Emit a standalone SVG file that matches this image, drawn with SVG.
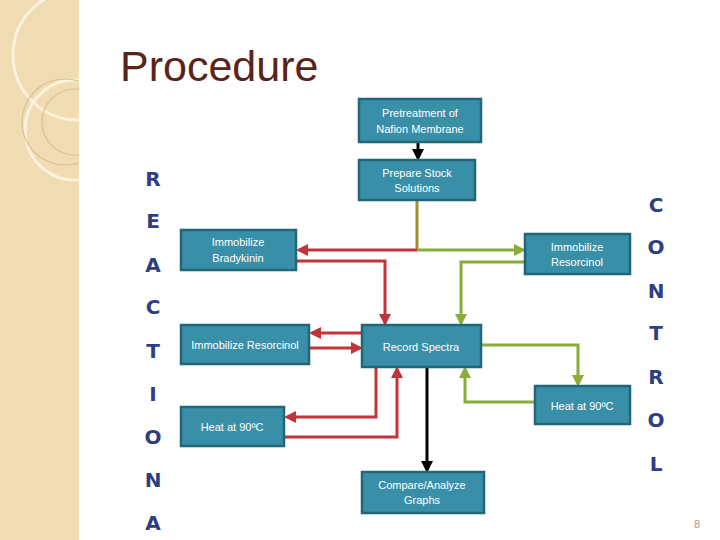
<svg xmlns="http://www.w3.org/2000/svg" width="720" height="540" viewBox="0 0 720 540">
<defs>
<style>
.n rect{fill:#3a8fa8;stroke:#22667a;stroke-width:2.5}
.n text{fill:#fff;font-family:"Liberation Sans",Arial,sans-serif;font-size:11px;text-anchor:middle}
.lt{font-family:"DejaVu Sans",sans-serif;font-weight:bold;font-size:20px;fill:#2d3f80;text-anchor:middle}
.r{stroke:#c0343a;stroke-width:3;fill:none;marker-end:url(#ar)}
.g{stroke:#8aac3a;stroke-width:3;fill:none;marker-end:url(#ag)}
.k{stroke:#000;stroke-width:3;fill:none;marker-end:url(#ak)}
</style>
<marker id="ar" markerWidth="4" markerHeight="4" refX="3" refY="2" orient="auto"><path d="M0,0L4,2L0,4z" fill="#c0343a"/></marker>
<marker id="ag" markerWidth="4" markerHeight="4" refX="3" refY="2" orient="auto"><path d="M0,0L4,2L0,4z" fill="#8aac3a"/></marker>
<marker id="ak" markerWidth="4" markerHeight="4" refX="3" refY="2" orient="auto"><path d="M0,0L4,2L0,4z" fill="#000"/></marker>
<clipPath id="cp"><rect width="79" height="540"/></clipPath>
</defs>
<rect width="720" height="540" fill="#fff"/>
<rect width="79" height="540" fill="#efdcb3"/>
<g clip-path="url(#cp)">
<g fill="none" stroke="#fbf1dc" stroke-width="3"><circle cx="78" cy="55" r="65"/><circle cx="75" cy="130" r="50"/></g>
<g fill="none" stroke="#d9c190" stroke-width="1.2"><circle cx="65" cy="122" r="43"/><circle cx="75" cy="122" r="33"/></g>
</g>
<text x="120" y="81" font-family="Liberation Sans,Arial,sans-serif" font-size="43" fill="#5a2418">Procedure</text>
<g id="reaction">
<text class="lt" x="153" y="186">R</text><text class="lt" x="153" y="228">E</text><text class="lt" x="153" y="272">A</text><text class="lt" x="153" y="314">C</text><text class="lt" x="153" y="358">T</text><text class="lt" x="153" y="401">I</text><text class="lt" x="153" y="444">O</text><text class="lt" x="153" y="487">N</text><text class="lt" x="153" y="530">A</text>
</g>
<g id="control">
<text class="lt" x="656" y="212">C</text><text class="lt" x="656" y="254">O</text><text class="lt" x="656" y="298">N</text><text class="lt" x="656" y="340">T</text><text class="lt" x="656" y="384">R</text><text class="lt" x="656" y="427">O</text><text class="lt" x="656" y="471">L</text>
</g>
<g id="connectors">
<path class="k" d="M418,142V158"/>
<path d="M417,200V250" stroke="#a09030" stroke-width="3"/>
<path class="r" d="M417,250H299"/>
<path class="g" d="M417,250H523"/>
<path class="r" d="M296,261H385V323"/>
<path class="g" d="M525,262H461V323"/>
<path class="r" d="M362,333H312"/>
<path class="r" d="M309,348H360"/>
<path class="g" d="M481,345H578V384"/>
<path class="g" d="M535,402H465V369"/>
<path class="r" d="M376,367V417H287"/>
<path class="r" d="M284,437H397V369"/>
<path class="k" d="M427,367V470"/>
</g>
<g id="pretreat" class="n"><rect x="359" y="99" width="122" height="43"/><text x="420" y="117">Pretreatment of</text><text x="420" y="133">Nafion Membrane</text></g>
<g id="stock" class="n"><rect x="359" y="160" width="116" height="40"/><text x="417" y="177">Prepare Stock</text><text x="417" y="192">Solutions</text></g>
<g id="brady" class="n"><rect x="181" y="230" width="115" height="40"/><text x="238" y="246">Immobilize</text><text x="238" y="262">Bradykinin</text></g>
<g id="resL" class="n"><rect x="181" y="325" width="128" height="39"/><text x="245" y="349">Immobilize Resorcinol</text></g>
<g id="spectra" class="n"><rect x="362" y="325" width="119" height="42"/><text x="421" y="351">Record Spectra</text></g>
<g id="resR" class="n"><rect x="525" y="234" width="105" height="40"/><text x="577" y="251">Immobilize</text><text x="577" y="266">Resorcinol</text></g>
<g id="heatR" class="n"><rect x="535" y="386" width="95" height="38"/><text x="582" y="410">Heat at 90ºC</text></g>
<g id="heatL" class="n"><rect x="181" y="407" width="103" height="39"/><text x="232" y="431">Heat at 90ºC</text></g>
<g id="compare" class="n"><rect x="362" y="472" width="122" height="41"/><text x="422" y="489">Compare/Analyze</text><text x="422" y="504">Graphs</text></g>
<text x="697" y="528" font-family="Liberation Sans,Arial,sans-serif" font-size="11" fill="#b09a70" text-anchor="middle">8</text>
</svg>
